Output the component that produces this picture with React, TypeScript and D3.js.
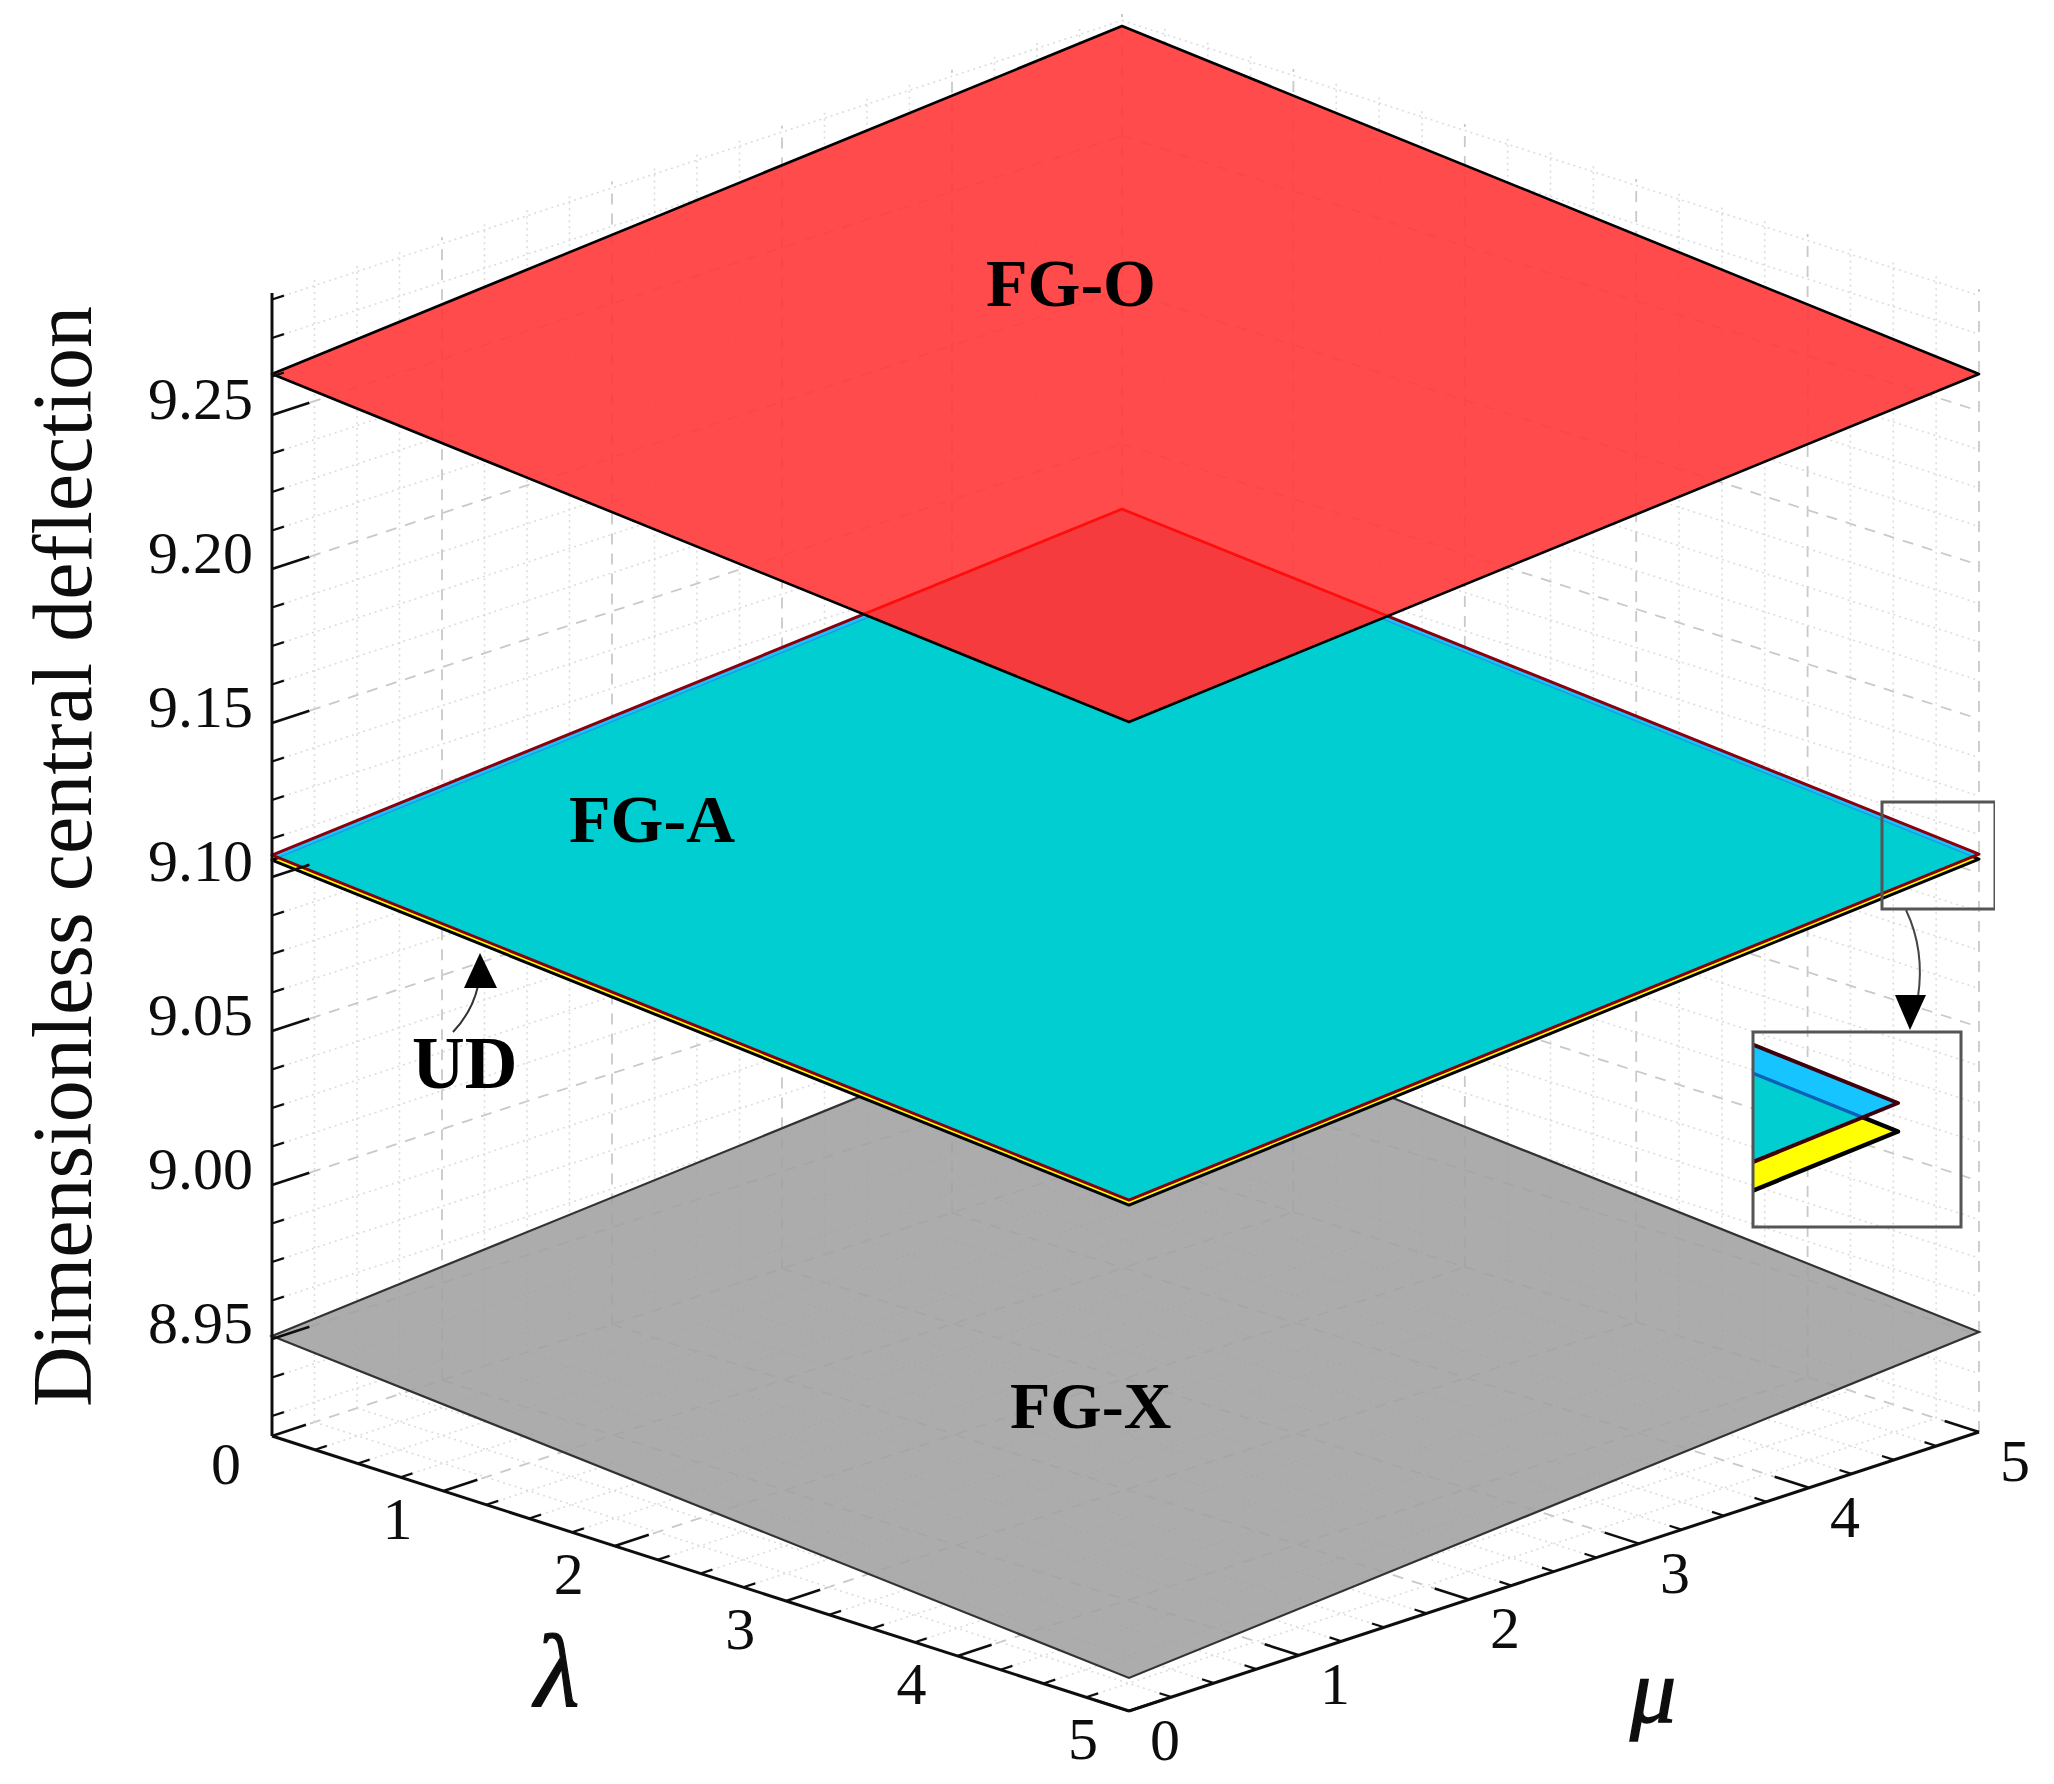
import React from "react";
import * as d3 from "d3";

// ---------- data ----------
const lambdaTicks = [0, 1, 2, 3, 4, 5];
const muTicks = [0, 1, 2, 3, 4, 5];
const zTicks = [8.95, 9.0, 9.05, 9.1, 9.15, 9.2, 9.25];
const zTickLabels = ["8.95", "9.00", "9.05", "9.10", "9.15", "9.20", "9.25"];
const zDomain = [8.9185, 9.2896];

const valueFGO = 9.2633;
const valueUpper = 9.1071; // blue surface, just above FG-A
const valueFGA = 9.1055;
const valueUD = 9.1055;
const valueFGX = 8.951;

const labelsText = ["FG-O", "FG-A", "FG-X", "UD"];

// ---------- scales ----------
const W = 2054;
const H = 1784;
const FONT = "'Liberation Serif', 'Times New Roman', serif";

const zY = d3.scaleLinear().domain([8.95, 9.25]).range([1339, 415]);
const lamX = d3.scaleLinear().domain([0, 5]).range([0, 857]);
const muX = d3.scaleLinear().domain([0, 5]).range([0, 850]);
const lamY = d3.scaleLinear().domain([0, 5]).range([0, 275]);
const muY = d3.scaleLinear().domain([0, 5]).range([0, -279]);
const X0 = 272;

type Pt = [number, number];
const box = (l: number, m: number, z: number): Pt => [X0 + lamX(l) + muX(m), zY(z) + lamY(l) + muY(m)];
// the surfaces are drawn with a steeper diamond than the floor box, in three slightly different sizes
const diamondOf = (z: number, lamDrop: number, muRise: number): Pt[] => {
  const ly = d3.scaleLinear().domain([0, 5]).range([0, lamDrop]);
  const my = d3.scaleLinear().domain([0, 5]).range([0, -muRise]);
  const s = (l: number, m: number): Pt => [X0 + lamX(l) + muX(m), zY(z) + ly(l) + my(m)];
  return [s(0, 0), s(0, 5), s(5, 5), s(5, 0)];
};
const diamondO = (z: number) => diamondOf(z, 348, 348);
const diamondA = (z: number) => diamondOf(z, 345, 346);
const diamondX = (z: number) => diamondOf(z, 342, 346);

const line = d3.line<Pt>();
const closed = d3.line<Pt>().curve(d3.curveLinearClosed);

// inset magnifies the right tip of the middle surfaces
const insetTip = diamondA(valueUpper)[2];
const insetBox = { x0: 1753, x1: 1961, y0: 1032, y1: 1227 };
const insetK = 5.8;
const toInset = (p: Pt): Pt => [1898 + insetK * (p[0] - insetTip[0]), 1103 + insetK * (p[1] - insetTip[1])];

const lamMinor = d3.range(0, 5.001, 0.25);
const muMinor = d3.range(0, 5.001, 0.25);
const zMinor = d3.range(8.925, zDomain[1], 0.0125);
const isMajor = (v: number) => Math.abs(v - Math.round(v)) < 1e-6;
const isMajorZ = (v: number) => Math.abs(v / 0.05 - Math.round(v / 0.05)) < 1e-4;

function Grid({ a, b, major }: { a: Pt; b: Pt; major: boolean }) {
  return (
    <path
      d={line([a, b]) as string}
      fill="none"
      stroke={major ? "#c9c9c9" : "#dcdcdc"}
      strokeWidth={major ? 1.8 : 1.6}
      strokeDasharray={major ? "11 9" : "2 4"}
    />
  );
}

function Tick({ a, b, major }: { a: Pt; b: Pt; major: boolean }) {
  return <path d={line([a, b]) as string} fill="none" stroke="#111" strokeWidth={major ? 2.6 : 2.2} />;
}

function MiddleSurfaces({
  map,
  id,
  edge,
  edgeColor,
  blueEdge,
  blueColor,
  blackEdge,
}: {
  map: (p: Pt) => Pt;
  id: string;
  edge: number;
  edgeColor: string;
  blueEdge: number;
  blueColor: string;
  blackEdge: number;
}) {
  const up = diamondA(valueUpper).map(map);
  const fa = diamondA(valueFGA).map(map);
  const ud = diamondA(valueUD).map(map);
  return (
    <g>
      <defs>
        <clipPath id={id}>
          <path d={closed(up) as string} />
        </clipPath>
      </defs>
      <path d={closed(ud) as string} fill="#ffff00" stroke="#000" strokeWidth={blackEdge} strokeLinejoin="round" />
      <path d={closed(up) as string} fill="#19c5ff" />
      <g clipPath={`url(#${id})`}>
        <path d={closed(fa) as string} fill="#00ced1" stroke={blueColor} strokeWidth={blueEdge} />
      </g>
      <path d={closed(up) as string} fill="none" stroke={edgeColor} strokeWidth={edge} strokeLinejoin="round" />
    </g>
  );
}

export default function App() {
  const zBot = zDomain[0];
  const zTop = zDomain[1];
  const fgo = diamondO(valueFGO);
  const up = diamondA(valueUpper);
  const fgx = diamondX(valueFGX);

  return (
    <svg
      width={W}
      height={H}
      viewBox={`0 0 ${W} ${H}`}
      style={{ position: "absolute", left: 0, top: 0, display: "block", background: "#fff" }}
    >
      <defs>
        <filter id="soft" x="0" y="0" width="100%" height="100%">
          <feGaussianBlur stdDeviation="0.6" />
        </filter>
        <clipPath id="clipO">
          <path d={closed(fgo) as string} />
        </clipPath>
        <clipPath id="clipInset">
          <rect x={insetBox.x0} y={insetBox.y0} width={insetBox.x1 - insetBox.x0} height={insetBox.y1 - insetBox.y0} />
        </clipPath>
      </defs>
      <g filter="url(#soft)">
        {/* floor grid */}
        {lamMinor.map((l) => (
          <Grid key={`fl${l}`} a={box(l, 0, zBot)} b={box(l, 5, zBot)} major={isMajor(l)} />
        ))}
        {muMinor.map((m) => (
          <Grid key={`fm${m}`} a={box(0, m, zBot)} b={box(5, m, zBot)} major={isMajor(m)} />
        ))}
        {/* left wall */}
        {muMinor.map((m) => (
          <Grid key={`lw${m}`} a={box(0, m, zBot)} b={box(0, m, zTop)} major={isMajor(m)} />
        ))}
        {zMinor.map((z) => (
          <Grid key={`lz${z}`} a={box(0, 0, z)} b={box(0, 5, z)} major={isMajorZ(z)} />
        ))}
        {/* right wall */}
        {lamMinor.map((l) => (
          <Grid key={`rw${l}`} a={box(l, 5, zBot)} b={box(l, 5, zTop)} major={isMajor(l)} />
        ))}
        {zMinor.map((z) => (
          <Grid key={`rz${z}`} a={box(0, 5, z)} b={box(5, 5, z)} major={isMajorZ(z)} />
        ))}

        {/* FG-X */}
        <path d={closed(fgx) as string} fill="#a0a0a0" fillOpacity={0.88} stroke="#333" strokeWidth={2.2} />

        {/* UD, upper surface and FG-A */}
        <MiddleSurfaces
          map={(p) => p}
          id="clipUpper"
          edge={3}
          edgeColor="#8a0010"
          blueEdge={1.4}
          blueColor="#1a9be0"
          blackEdge={3}
        />

        {/* FG-O */}
        <path d={closed(fgo) as string} fill="#ff3939" fillOpacity={0.9} stroke="none" />
        <g clipPath="url(#clipO)">
          <path d={closed(up) as string} fill="#f53a3c" stroke="#ff0a0a" strokeWidth={2.6} />
        </g>
        <path d={closed(fgo) as string} fill="none" stroke="#000" strokeWidth={2.6} strokeLinejoin="round" />

        {/* axes */}
        <path d={line([box(0, 0, zBot), box(0, 0, zTop)]) as string} stroke="#111" strokeWidth={3} fill="none" />
        <path d={line([box(0, 0, zBot), box(5, 0, zBot)]) as string} stroke="#111" strokeWidth={3} fill="none" />
        <path d={line([box(5, 0, zBot), box(5, 5, zBot)]) as string} stroke="#111" strokeWidth={3} fill="none" />
        {zMinor.map((z) => (
          <Tick key={`tz${z}`} a={box(0, 0, z)} b={box(0, isMajorZ(z) ? 0.22 : 0.07, z)} major={isMajorZ(z)} />
        ))}
        {lamMinor.map((l) => (
          <Tick key={`tl${l}`} a={box(l, 0, zBot)} b={box(l, isMajor(l) ? 0.2 : 0.07, zBot)} major={isMajor(l)} />
        ))}
        {muMinor.map((m) => (
          <Tick
            key={`tm${m}`}
            a={box(5, m, zBot)}
            b={box(5 - (isMajor(m) ? 0.2 : 0.07), m, zBot)}
            major={isMajor(m)}
          />
        ))}

        {/* zoom box and arrow */}
        <rect x={1882} y={802} width={113} height={107} fill="none" stroke="#555" strokeWidth={3} />
        <path d="M1906,910 Q1925,950 1918,997" fill="none" stroke="#444" strokeWidth={2} />
        <path d="M1895,995 L1926,995 L1910,1030 Z" fill="#000" />

        {/* inset */}
        <g clipPath="url(#clipInset)">
          <MiddleSurfaces
            map={toInset}
            id="clipUpperInset"
            edge={4}
            edgeColor="#400008"
            blueEdge={3.4}
            blueColor="#0d62b8"
            blackEdge={4.4}
          />
        </g>
        <rect
          x={insetBox.x0}
          y={insetBox.y0}
          width={insetBox.x1 - insetBox.x0}
          height={insetBox.y1 - insetBox.y0}
          fill="none"
          stroke="#555"
          strokeWidth={3}
        />

        {/* UD arrow */}
        <path d="M478,986 Q472,1012 453,1032" fill="none" stroke="#333" strokeWidth={2} />
        <path d="M480,953 L464,988 L497,988 Z" fill="#000" />
      </g>

      {/* text */}
      <g fontFamily={FONT} fill="#111" filter="url(#soft)">
        {zTicks.map((z, i) => (
          <text key={z} x={253} y={zY(z) + 4} fontSize={60} textAnchor="end">
            {zTickLabels[i]}
          </text>
        ))}
        {lambdaTicks.map((l) => {
          const p = box(l, 0, zBot);
          return (
            <text key={l} x={p[0] - 46} y={p[1] + 48} fontSize={60} textAnchor="middle">
              {l}
            </text>
          );
        })}
        {muTicks.map((m) => {
          const p = box(5, m, zBot);
          return (
            <text key={m} x={p[0] + 36} y={p[1] + 49} fontSize={60} textAnchor="middle">
              {m}
            </text>
          );
        })}
        <text transform="translate(91,1407) rotate(-90)" fontSize={84}>
          Dimensionless central deflection
        </text>
        <text x={557} y={1706} fontSize={104} fontStyle="italic" textAnchor="middle" stroke="#111" strokeWidth={1.2}>
          λ
        </text>
        <text x={1653} y={1722} fontSize={92} fontStyle="italic" textAnchor="middle" stroke="#111" strokeWidth={1.4}>
          μ
        </text>
        <g fontWeight={700} fill="#000">
          <text x={986} y={306} fontSize={68}>
            {labelsText[0]}
          </text>
          <text x={569} y={842} fontSize={68}>
            {labelsText[1]}
          </text>
          <text x={1010} y={1428} fontSize={66}>
            {labelsText[2]}
          </text>
          <text x={412} y={1088} fontSize={73}>
            {labelsText[3]}
          </text>
        </g>
      </g>
    </svg>
  );
}
